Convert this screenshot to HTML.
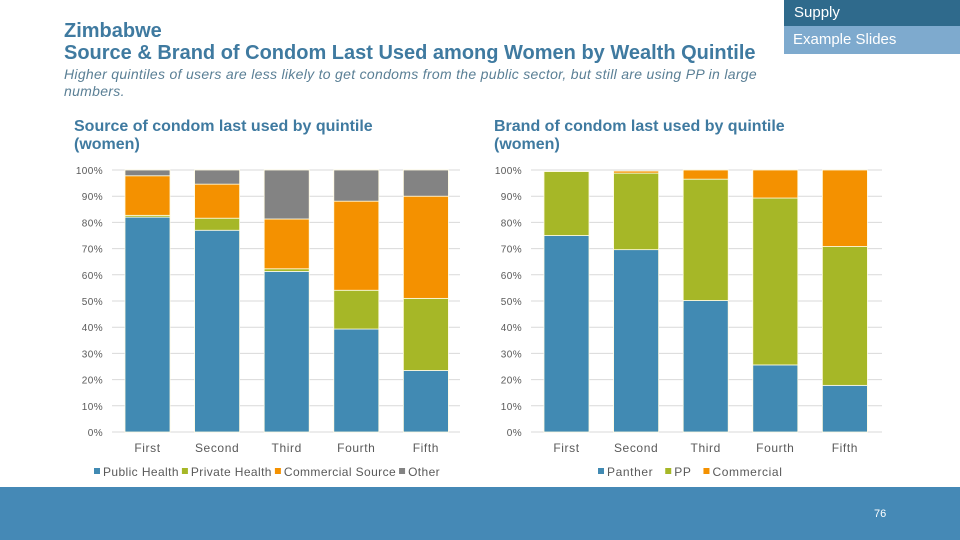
<!DOCTYPE html>
<html><head><meta charset="utf-8"><style>
body{margin:0;width:960px;height:540px;position:relative;overflow:hidden;background:#fff;font-family:"Liberation Sans",sans-serif}
.abs{position:absolute}
</style></head><body>
<div class="abs" style="left:64px;top:20px;font-size:20px;font-weight:bold;color:#3f7aa0">Zimbabwe</div>
<div class="abs" style="left:64px;top:42px;font-size:20px;font-weight:bold;color:#3f7aa0">Source &amp; Brand of Condom Last Used among Women by Wealth Quintile</div>
<div class="abs" style="left:64px;top:66px;width:800px;font-size:14px;letter-spacing:0.3px;font-style:italic;color:#5a7f95;line-height:17px">Higher quintiles of users are less likely to get condoms from the public sector, but still are using PP in large<br>numbers.</div>
<div class="abs" style="left:784px;top:0;width:176px;height:26px;background:#2f6a8c;color:#fff;font-size:15px;line-height:26px;text-indent:10px">Supply</div>
<div class="abs" style="left:784px;top:26px;width:176px;height:28px;background:#7eaace;color:#fff;font-size:15px;line-height:28px;text-indent:9px">Example Slides</div>
<div class="abs" style="left:74px;top:118px;font-size:16px;font-weight:bold;color:#3f7aa0;line-height:18px">Source of condom last used by quintile<br>(women)</div>
<div class="abs" style="left:494px;top:118px;font-size:16px;font-weight:bold;color:#3f7aa0;line-height:18px">Brand of condom last used by quintile<br>(women)</div>
<svg class="abs" style="left:0;top:0" width="960" height="540" id="svg"></svg>
<div class="abs" style="left:0;top:487px;width:960px;height:53px;background:#4589b6"></div>
<div class="abs" style="left:874px;top:508px;font-size:11px;color:#fff">76</div>
<script>
const categories=["First","Second","Third","Fourth","Fifth"];
const ticks=["0%","10%","20%","30%","40%","50%","60%","70%","80%","90%","100%"];
const leftSeriesNames=["Public Health","Private Health","Commercial Source","Other"];
const leftPublic=[82,77,61.3,39.3,23.5];
const leftPrivate=[0.7,4.6,1,14.8,27.5];
const leftCommercial=[15.1,13,19,34,39];
const leftOther=[2.2,5.4,18.7,11.9,10];
const rightSeriesNames=["Panther","PP","Commercial"];
const rightPanther=[75,69.6,50.2,25.6,17.8];
const rightPP=[24.4,29.2,46.3,63.7,53];
const rightCommercial=[0,0.8,3.5,10.7,29.2];
const colors=["#418ab3","#a6b727","#f49100","#838383"];
const NS="http://www.w3.org/2000/svg";
const svg=document.getElementById('svg');
function mk(tag,attrs,txt){const e=document.createElementNS(NS,tag);for(const k in attrs)e.setAttribute(k,attrs[k]);if(txt!==undefined)e.textContent=txt;svg.appendChild(e);return e;}
function chart(prefix,x0,x1,firstBar,series,names,legendX,ls,gap){
  const y=v=>432-v*2.62;
  const step=69.6,bw=45;
  ticks.forEach((t,i)=>{
    const g=mk('line',{x1:x0,x2:x1,y1:y(i*10),y2:y(i*10),stroke:'#d9d9d9','stroke-width':1});
    
    
    const tx=mk('text',{x:x0-9,y:y(i*10)+4,'text-anchor':'end','font-size':10,'letter-spacing':0.4,fill:'#595959'},t);
    
    
  });
  categories.forEach((c,i)=>{
    const bx=firstBar+i*step;let acc=0;
    series.forEach((s,j)=>{
      const v=s[i];if(v<=0){return;}
      const r=mk('rect',{x:bx,y:y(acc+v),width:bw,height:v*2.62,fill:colors[j],stroke:'#fffbe0','stroke-width':0.8});
      
      
      acc+=v;
    });
    const t=mk('text',{x:bx+bw/2,y:452,'text-anchor':'middle','font-size':12,'letter-spacing':0.6,fill:'#595959'},c);
    
    
  });
  let lx=legendX;
  names.forEach((n,j)=>{
    const r=mk('rect',{x:lx,y:468,width:6,height:6,fill:colors[j]});
    
    
    const t=mk('text',{x:lx+9,y:476,'font-size':12,'letter-spacing':ls,fill:'#595959'},n);
    
    
    lx+=9+t.getComputedTextLength()+gap;
  });
}
chart('left',112,460,125,[leftPublic,leftPrivate,leftCommercial,leftOther],leftSeriesNames,94,0.4,3);
chart('right',531,882,544,[rightPanther,rightPP,rightCommercial],rightSeriesNames,598,0.6,12);
</script>
</body></html>
